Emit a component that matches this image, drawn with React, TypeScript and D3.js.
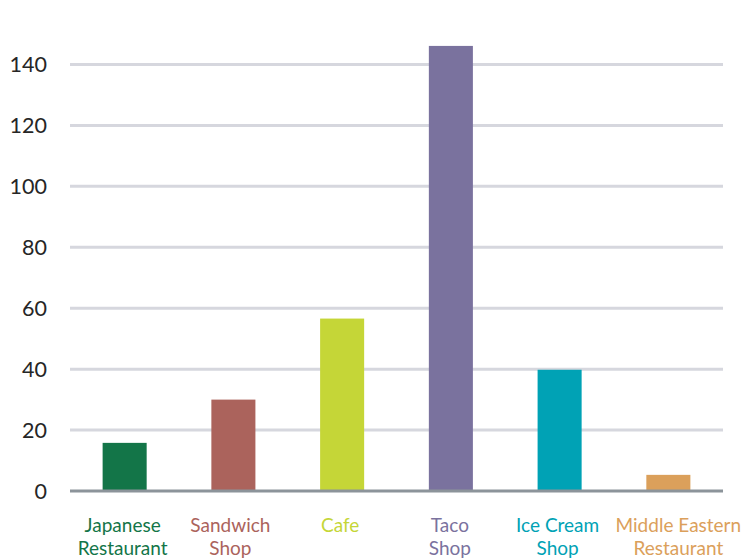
import * as d3 from "d3";

const categories = [
  ["Japanese", "Restaurant"],
  ["Sandwich", "Shop"],
  ["Cafe"],
  ["Taco", "Shop"],
  ["Ice Cream", "Shop"],
  ["Middle Eastern", "Restaurant"],
];
const values = [15.8, 30, 56.6, 146.1, 39.8, 5.3];
const colors = ["#137548", "#ab635c", "#c5d637", "#7a729e", "#00a2b5", "#dba05b"];
const yTicks = [0, 20, 40, 60, 80, 100, 120, 140];

const WIDTH = 743;
const HEIGHT = 559;
const LEFT = 70;
const RIGHT = 723;
const ZERO_Y = 491;
const FONT = "Lato, 'Open Sans', sans-serif";
// the last label sits off-centre in the original, pushed against the right edge
const labelNudge = [-2, -3, -2, -1, -2, 10];

export default function App() {
  const x = d3
    .scaleBand<number>()
    .domain(d3.range(categories.length))
    .range([LEFT, RIGHT])
    .paddingInner(0.595)
    .paddingOuter(0.3);
  const y = d3.scaleLinear().domain([0, 140]).range([ZERO_Y, 64.5]);

  return (
    <svg width={WIDTH} height={HEIGHT} style={{ position: "absolute", left: 0, top: 0 }}>
      <rect width={WIDTH} height={HEIGHT} fill="#ffffff" />
      {yTicks.map((t) => (
        <g key={t}>
          {t > 0 && <line x1={LEFT} x2={RIGHT} y1={y(t)} y2={y(t)} stroke="#d6d7de" strokeWidth={3} />}
          <text x={47} y={y(t) + 7.5} fontSize={21.5} fontFamily={FONT} fill="#262626" textAnchor="end">
            {t}
          </text>
        </g>
      ))}
      {values.map((v, i) => (
        <rect key={i} x={x(i)} y={y(v)} width={x.bandwidth()} height={ZERO_Y - y(v)} fill={colors[i]} />
      ))}
      <line x1={LEFT} x2={RIGHT} y1={ZERO_Y} y2={ZERO_Y} stroke="#8c949a" strokeWidth={3} />
      {categories.map((lines, i) => (
        <text key={i} fontSize={19} fontFamily={FONT} fill={colors[i]} textAnchor="middle">
          {lines.map((l, j) => (
            <tspan key={j} x={(x(i) ?? 0) + x.bandwidth() / 2 + labelNudge[i]} y={531.5 + j * 23.5}>
              {l}
            </tspan>
          ))}
        </text>
      ))}
    </svg>
  );
}
